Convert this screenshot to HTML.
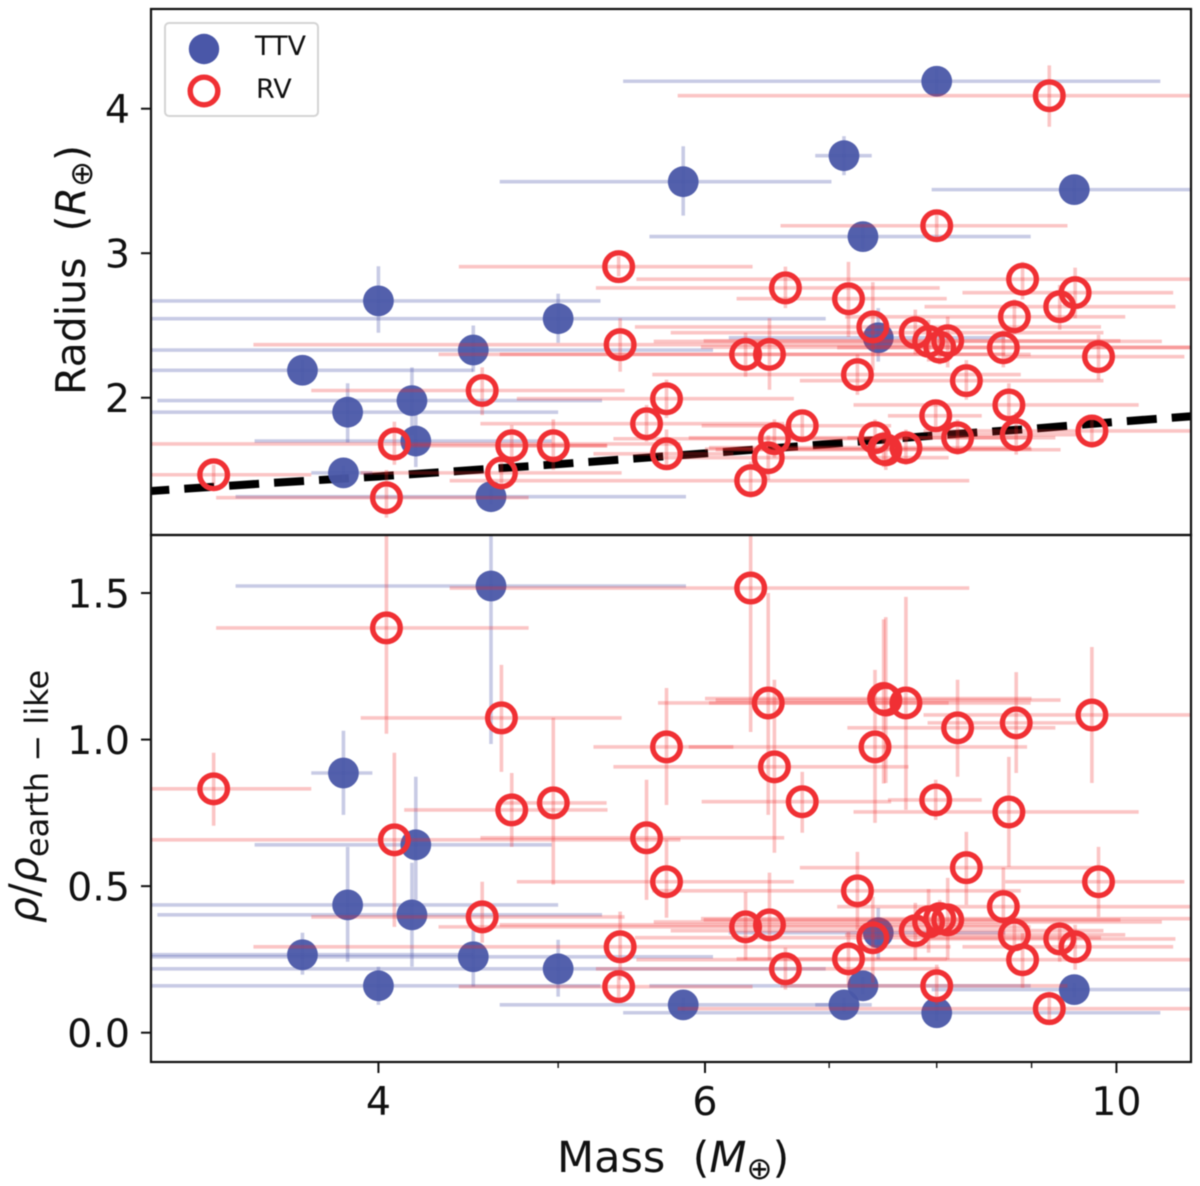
<!DOCTYPE html>
<html lang="en">
<head>
<meta charset="utf-8">
<title>Mass, radius and density of planets</title>
<style>
  html, body { margin: 0; padding: 0; background: #fff; }
  svg { display: block; font-family: "DejaVu Sans", "Liberation Sans", sans-serif; filter: blur(0.5px); }
</style>
</head>
<body>
<svg id="chart" xmlns="http://www.w3.org/2000/svg" width="1200" height="1186" viewBox="0 0 1200 1186">
  <defs>
    <clipPath id="clip-top"><rect x="151" y="9" width="1040" height="526"/></clipPath>
    <clipPath id="clip-bottom"><rect x="151" y="535" width="1040" height="527"/></clipPath>
  </defs>
  <rect x="0" y="0" width="1200" height="1186" fill="#fff"/>
  <g id="top-marks" clip-path="url(#clip-top)"></g>
  <g id="bottom-marks" clip-path="url(#clip-bottom)"></g>
  <g id="ticks"></g>
  <rect x="151" y="9" width="1040" height="526" fill="none" stroke="#111" stroke-width="2.2"/>
  <rect x="151" y="535" width="1040" height="527" fill="none" stroke="#111" stroke-width="2.2"/>

  <text transform="translate(85,395) rotate(-90)" font-size="41" fill="#111">Radius<tspan xml:space="preserve">  (</tspan><tspan font-style="italic">R</tspan><tspan font-size="31" dy="7">⊕</tspan><tspan dy="-7">)</tspan></text>
  <text transform="translate(38,923) rotate(-90)" font-size="41" fill="#111"><tspan font-style="italic">ρ</tspan>/<tspan font-style="italic">ρ</tspan><tspan font-size="32" dy="10">earth − like</tspan></text>
  <text x="557" y="1172" font-size="43" fill="#111">Mass<tspan xml:space="preserve">  (</tspan><tspan font-style="italic">M</tspan><tspan font-size="31" dy="7">⊕</tspan><tspan dy="-7">)</tspan></text>

  <g>
    <rect x="165" y="23" width="153" height="93" rx="4" fill="#fff" fill-opacity="0.85" stroke="#d4d4d4" stroke-width="2"/>
    <circle cx="204" cy="49" r="15.2" fill="#4a57a8"/>
    <text x="255" y="55" font-size="27" fill="#111">TTV</text>
    <circle cx="204" cy="91" r="13.8" fill="none" stroke="#f03034" stroke-width="5.4"/>
    <text x="256" y="98" font-size="27" fill="#111">RV</text>
  </g>
</svg>
<script>
const xTickValues = [4, 6, 10];
const xTickLabels = ["4", "6", "10"];
const xMinorTickValues = [5, 7, 8, 9];
const radiusTickValues = [2, 3, 4];
const radiusTickLabels = ["2", "3", "4"];
const densityTickValues = [0, 0.5, 1, 1.5];
const densityTickLabels = ["0.0", "0.5", "1.0", "1.5"];

const relationMass = [2.9, 3.5, 4, 5, 6, 7, 8, 9, 10, 11.2];
const relationRadius = [1.34, 1.41, 1.455, 1.54, 1.615, 1.68, 1.74, 1.785, 1.833, 1.88];

const ttvMass = [8.00, 5.84, 7.13, 7.30, 9.49, 4.00, 5.00, 4.50, 3.64, 4.17, 3.85, 4.19, 3.83, 4.60, 7.44];
const ttvMassLow = [5.42, 4.65, 6.88, 5.60, 7.95, 2.90, 2.90, 2.90, 2.90, 3.04, 2.90, 3.43, 3.68, 3.35, 6.18];
const ttvMassHigh = [10.56, 7.02, 7.38, 8.99, 11.2, 5.27, 6.97, 6.06, 4.50, 5.28, 5.00, 4.96, 3.97, 5.86, 8.71];
const ttvRadius = [4.19, 3.495, 3.675, 3.115, 3.44, 2.67, 2.547, 2.33, 2.19, 1.98, 1.90, 1.70, 1.48, 1.315, 2.415];
const ttvRadiusLow = [4.10, 3.26, 3.54, 3.03, 3.36, 2.45, 2.38, 2.18, 2.12, 1.74, 1.69, 1.52, 1.43, 1.26, 2.25];
const ttvRadiusHigh = [4.28, 3.74, 3.81, 3.20, 3.52, 2.91, 2.72, 2.50, 2.26, 2.21, 2.10, 1.88, 1.53, 1.37, 2.62];
const ttvDensity = [0.068, 0.095, 0.095, 0.16, 0.147, 0.16, 0.218, 0.259, 0.266, 0.402, 0.436, 0.641, 0.886, 1.524, 0.341];
const ttvDensityLow = [0.04, 0.07, 0.07, 0.13, 0.12, 0.095, 0.123, 0.157, 0.198, 0.225, 0.242, 0.453, 0.743, 0.985, 0.25];
const ttvDensityHigh = [0.10, 0.12, 0.12, 0.19, 0.17, 0.225, 0.317, 0.351, 0.341, 0.58, 0.634, 0.873, 1.03, 1.72, 0.426];

const rvMass = [9.20, 8.00, 5.39, 6.63, 7.17, 8.90, 9.50, 9.32, 8.81, 9.78, 8.69, 7.39, 7.79, 7.92, 8.03, 8.11, 5.40, 6.31, 6.50, 7.25, 8.30, 8.75, 7.99, 5.72, 5.58, 6.77, 8.83, 9.70, 8.21, 7.41, 5.72, 6.49, 6.54, 7.51, 7.70, 6.35, 3.26, 4.04, 4.08, 4.55, 4.66, 4.72, 4.97, 7.49];
const rvMassLow = [5.80, 6.59, 4.42, 5.24, 6.24, 5.51, 8.26, 7.88, 7.14, 8.71, 7.07, 5.50, 5.75, 5.63, 5.97, 5.99, 3.425, 4.31, 4.65, 5.62, 6.75, 7.215, 7.53, 4.75, 4.54, 5.975, 7.91, 7.87, 7.16, 5.88, 5.224, 5.66, 5.355, 6.08, 6.03, 4.37, 2.90, 3.27, 2.90, 3.68, 3.913, 4.13, 4.64, 6.00];
const rvMassHigh = [11.2, 9.41, 6.365, 8.03, 8.10, 11.2, 10.73, 10.76, 10.11, 10.88, 11.2, 9.81, 9.84, 10.58, 11.2, 10.05, 8.14, 8.99, 8.71, 8.88, 9.84, 10.28, 8.46, 6.70, 6.62, 7.56, 9.54, 11.2, 9.27, 8.95, 6.215, 8.12, 7.725, 9.33, 8.99, 8.33, 3.68, 4.82, 5.82, 5.43, 5.41, 5.316, 5.31, 9.00];
const rvRadius = [4.09, 3.19, 2.907, 2.76, 2.685, 2.82, 2.727, 2.63, 2.56, 2.284, 2.346, 2.49, 2.45, 2.39, 2.35, 2.394, 2.367, 2.30, 2.30, 2.16, 2.118, 1.95, 1.875, 1.993, 1.82, 1.806, 1.744, 1.77, 1.723, 1.723, 1.612, 1.585, 1.716, 1.64, 1.654, 1.426, 1.467, 1.308, 1.68, 2.05, 1.48, 1.668, 1.668, 1.645];
const rvRadiusLow = [3.875, 3.11, 2.84, 2.62, 2.42, 2.68, 2.55, 2.47, 2.44, 2.125, 2.21, 2.19, 2.30, 2.25, 2.23, 2.21, 2.18, 2.145, 2.055, 2.02, 1.986, 1.81, 1.765, 1.86, 1.695, 1.71, 1.606, 1.654, 1.606, 1.606, 1.50, 1.43, 1.585, 1.50, 1.536, 1.308, 1.40, 1.17, 1.536, 1.88, 1.363, 1.536, 1.50, 1.52];
const rvRadiusHigh = [4.30, 3.27, 2.98, 2.907, 2.94, 2.94, 2.90, 2.78, 2.68, 2.436, 2.47, 2.80, 2.61, 2.54, 2.47, 2.56, 2.55, 2.45, 2.55, 2.30, 2.26, 2.10, 1.986, 2.125, 1.95, 1.88, 1.90, 1.88, 1.85, 1.85, 1.78, 1.74, 1.85, 1.78, 1.78, 1.557, 1.536, 1.50, 1.834, 2.21, 1.606, 1.81, 1.85, 1.77];
const rvDensity = [0.082, 0.16, 0.157, 0.218, 0.252, 0.249, 0.293, 0.32, 0.334, 0.515, 0.43, 0.324, 0.348, 0.378, 0.389, 0.385, 0.293, 0.361, 0.368, 0.484, 0.563, 0.753, 0.794, 0.515, 0.665, 0.788, 1.057, 1.084, 1.04, 0.975, 0.975, 1.125, 0.907, 1.135, 1.125, 1.517, 0.832, 1.381, 0.658, 0.395, 1.074, 0.76, 0.784, 1.14];
const rvDensityLow = [0.03, 0.095, 0.11, 0.147, 0.164, 0.153, 0.215, 0.242, 0.283, 0.395, 0.30, 0.17, 0.249, 0.273, 0.344, 0.249, 0.18, 0.249, 0.249, 0.351, 0.436, 0.566, 0.726, 0.392, 0.453, 0.682, 0.886, 0.852, 0.873, 0.716, 0.777, 0.743, 0.614, 0.852, 0.76, 1.026, 0.706, 1.02, 0.361, 0.307, 0.89, 0.634, 0.505, 0.85];
const rvDensityHigh = [0.14, 0.232, 0.21, 0.29, 0.344, 0.34, 0.368, 0.378, 0.385, 0.634, 0.563, 0.464, 0.443, 0.49, 0.453, 0.528, 0.413, 0.48, 0.546, 0.617, 0.685, 0.941, 0.863, 0.658, 0.863, 0.89, 1.23, 1.316, 1.204, 1.238, 1.176, 1.50, 1.204, 1.418, 1.487, 1.72, 0.955, 1.72, 0.955, 0.515, 1.255, 0.886, 1.074, 1.41];

const xDomainMin = 3.016;
const xDomainMax = 10.97;
const radiusDomainMin = 1.05;
const radiusDomainMax = 4.69;
const densityDomainMin = -0.1;
const densityDomainMax = 1.698;

function xScale(m) {
  return 151 + 1040 * Math.log10(m / xDomainMin) / Math.log10(xDomainMax / xDomainMin);
}
function radiusScale(r) {
  return 535 - 526 * (r - radiusDomainMin) / (radiusDomainMax - radiusDomainMin);
}
function densityScale(d) {
  return 1062 - 527 * (d - densityDomainMin) / (densityDomainMax - densityDomainMin);
}

const NS = 'http://www.w3.org/2000/svg';
const BLUE_ERR = 'rgba(72,84,168,0.30)';
const RED_ERR = 'rgba(240,40,40,0.27)';

function addLine(parent, x1, y1, x2, y2, stroke, width) {
  const el = document.createElementNS(NS, 'line');
  el.setAttribute('x1', x1);
  el.setAttribute('y1', y1);
  el.setAttribute('x2', x2);
  el.setAttribute('y2', y2);
  el.setAttribute('stroke', stroke);
  el.setAttribute('stroke-width', width);
  parent.appendChild(el);
  return el;
}

function drawSeries(parent, mass, massLow, massHigh, val, valLow, valHigh, yScale, isRv, panel) {
  for (let i = 0; i < mass.length; i++) {
    const color = isRv ? RED_ERR : BLUE_ERR;
    const h = addLine(parent, xScale(massLow[i]), yScale(val[i]), xScale(massHigh[i]), yScale(val[i]), color, 3.6);
    
    
    const v = addLine(parent, xScale(mass[i]), yScale(valLow[i]), xScale(mass[i]), yScale(valHigh[i]), color, 3.6);
    
    
  }
  for (let i = 0; i < mass.length; i++) {
    const c = document.createElementNS(NS, 'circle');
    
    
    c.setAttribute('cx', xScale(mass[i]));
    c.setAttribute('cy', yScale(val[i]));
    if (isRv) {
      c.setAttribute('r', 13.8);
      c.setAttribute('fill', 'none');
      c.setAttribute('stroke', '#f03034');
      c.setAttribute('stroke-width', 5.4);
    } else {
      c.setAttribute('r', 15.4);
      c.setAttribute('fill', '#4a57a8');
      c.setAttribute('fill-opacity', 0.95);
    }
    parent.appendChild(c);
  }
}

const topMarks = document.getElementById('top-marks');
const bottomMarks = document.getElementById('bottom-marks');
const ticks = document.getElementById('ticks');

const relation = document.createElementNS(NS, 'polyline');


relation.setAttribute('points', relationMass.map(function (m, i) {
  return xScale(m) + ',' + radiusScale(relationRadius[i]);
}).join(' '));
relation.setAttribute('fill', 'none');
relation.setAttribute('stroke', '#000');
relation.setAttribute('stroke-width', 8);
relation.setAttribute('stroke-dasharray', '30 15');
relation.setAttribute('stroke-dashoffset', '-20');
topMarks.appendChild(relation);

drawSeries(topMarks, ttvMass, ttvMassLow, ttvMassHigh, ttvRadius, ttvRadiusLow, ttvRadiusHigh, radiusScale, false, 'radius');
drawSeries(topMarks, rvMass, rvMassLow, rvMassHigh, rvRadius, rvRadiusLow, rvRadiusHigh, radiusScale, true, 'radius');
drawSeries(bottomMarks, ttvMass, ttvMassLow, ttvMassHigh, ttvDensity, ttvDensityLow, ttvDensityHigh, densityScale, false, 'density');
drawSeries(bottomMarks, rvMass, rvMassLow, rvMassHigh, rvDensity, rvDensityLow, rvDensityHigh, densityScale, true, 'density');

function addLabel(x, y, text, anchor) {
  const t = document.createElementNS(NS, 'text');
  t.setAttribute('x', x);
  t.setAttribute('y', y);
  t.setAttribute('text-anchor', anchor);
  t.setAttribute('font-size', 39.5);
  t.setAttribute('fill', '#111');
  t.textContent = text;
  ticks.appendChild(t);
  return t;
}

xTickValues.forEach(function (m, i) {
  const mark = addLine(ticks, xScale(m), 1062, xScale(m), 1073, '#111', 2);
  
  
  const lab = addLabel(xScale(m), 1115, xTickLabels[i], 'middle');
  
  
});
xMinorTickValues.forEach(function (m) {
  const mark = addLine(ticks, xScale(m), 1062, xScale(m), 1068, '#111', 1.4);
  
  
});
radiusTickValues.forEach(function (r, i) {
  const mark = addLine(ticks, 141, radiusScale(r), 151, radiusScale(r), '#111', 2);
  
  
  const lab = addLabel(130, radiusScale(r) + 14.5, radiusTickLabels[i], 'end');
  
  
});
densityTickValues.forEach(function (d, i) {
  const mark = addLine(ticks, 141, densityScale(d), 151, densityScale(d), '#111', 2);
  
  
  const lab = addLabel(130, densityScale(d) + 14.5, densityTickLabels[i], 'end');
  
  
});
</script>
</body>
</html>
